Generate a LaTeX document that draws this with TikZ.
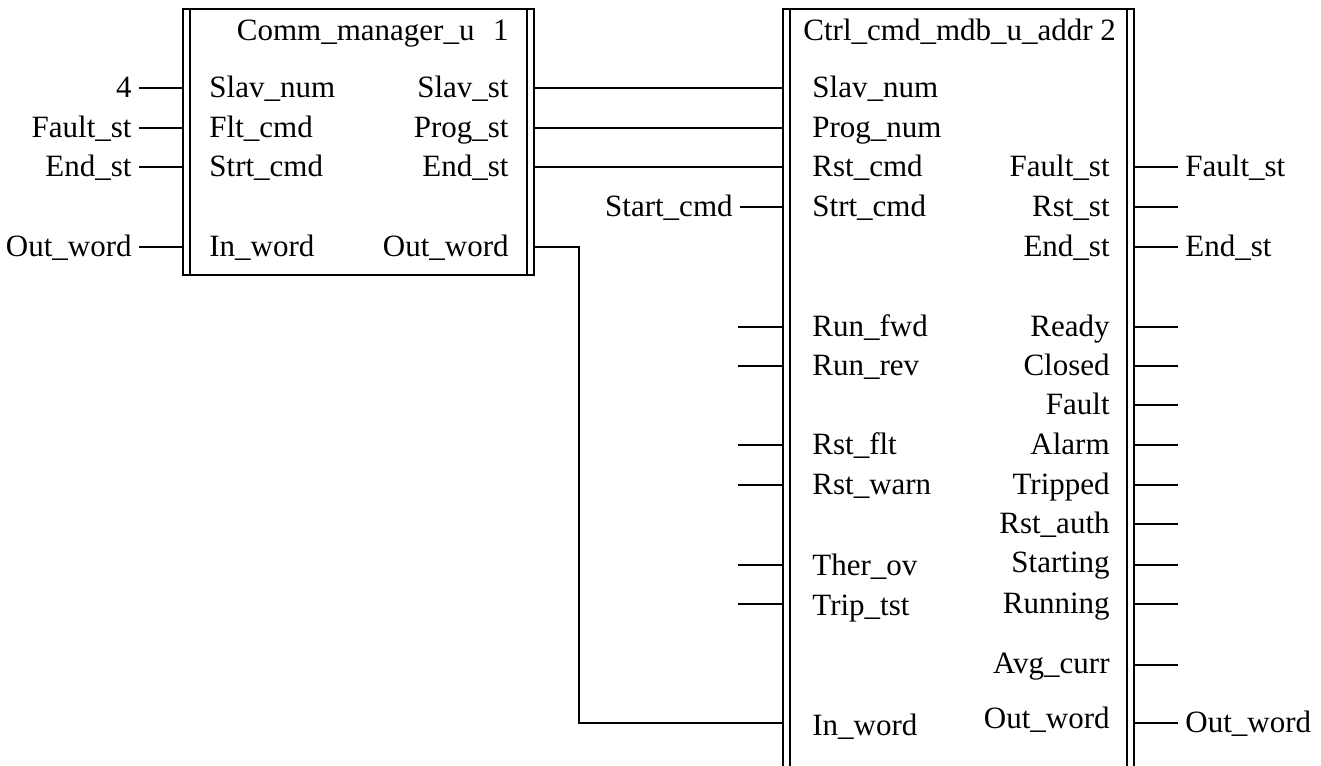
\documentclass[tikz,border=0pt]{standalone}
\usepackage{fontspec}
\setmainfont{Liberation Serif}
\usetikzlibrary{positioning}
\tikzset{
  wire/.style={line width=1.1pt},
  blk/.style={draw, line width=1.1pt, rectangle, inner sep=0pt},
  lbl/.style={font=\fontsize{15.5}{18}\selectfont, inner sep=0pt, text height=9.6pt, text depth=0pt},
  ext/.style={lbl, inner xsep=3.5pt},
}
\begin{document}
\begin{tikzpicture}[x=0.5pt, y=-0.5pt]
  \useasboundingbox (0,0) rectangle (1321,765);
  \clip (0,0) rectangle (1321,765);

  % --- Blocks ---
  \node[blk, minimum width=175.5pt, minimum height=133pt] (b1) at (358.5,142) {};
  \node[blk, minimum width=175.5pt, minimum height=388pt] (b2) at (958.5,397) {};
  \foreach \b in {b1,b2} {
    \draw[wire] ([xshift=4pt]\b.north west) -- ([xshift=4pt]\b.south west);
    \draw[wire] ([xshift=-4pt]\b.north east) -- ([xshift=-4pt]\b.south east);
  }

  % Titles
  \node[lbl, anchor=east] (t1) at (509,31) {Comm\_manager\_u\hspace{0.6em}1};
  \node[lbl, anchor=west] (t2) at (803,31) {Ctrl\_cmd\_mdb\_u\_addr 2};

  % --- Comm manager ports ---
  \foreach \y/\n/\t in {88/mi1/Slav\_num, 128/mi2/Flt\_cmd, 167/mi3/Strt\_cmd, 247/mi5/In\_word}
    \node[lbl, anchor=west] (\n) at (209,\y) {\t};
  \foreach \y/\n/\t in {88/mo1/Slav\_st, 128/mo2/Prog\_st, 167/mo3/End\_st, 247/mo5/Out\_word}
    \node[lbl, anchor=east] (\n) at (509,\y) {\t};

  % inputs from outside
  \foreach \y/\n/\t in {88/xa/4, 128/xb/Fault\_st, 167/xc/End\_st, 247/xd/Out\_word} {
    \node[ext, anchor=east] (\n) at (139,\y) {\t};
    \draw[wire] (\n.east) -- (\n -| b1.west);
  }

  % --- Ctrl cmd ports ---
  \foreach \y/\n/\t in {88/ci1/Slav\_num, 128/ci2/Prog\_num, 167/ci3/Rst\_cmd, 207/ci4/Strt\_cmd,
      327/ci5/Run\_fwd, 366/ci6/Run\_rev, 445/ci7/Rst\_flt, 485/ci8/Rst\_warn,
      566/ci9/Ther\_ov, 606/ci10/Trip\_tst, 726/ci11/In\_word}
    \node[lbl, anchor=west] (\n) at (812,\y) {\t};
  \foreach \y/\n/\t in {167/co1/Fault\_st, 207/co2/Rst\_st, 247/co3/End\_st,
      327/co4/Ready, 366/co5/Closed, 405/co6/Fault, 445/co7/Alarm, 485/co8/Tripped,
      524/co9/Rst\_auth, 563/co10/Starting, 604/co11/Running, 664/co12/Avg\_curr, 719/co13/Out\_word}
    \node[lbl, anchor=east] (\n) at (1110,\y) {\t};

  % links between the two blocks
  \draw[wire] (b1.east |- mo1) -- (b2.west |- mo1);
  \draw[wire] (b1.east |- mo2) -- (b2.west |- mo2);
  \draw[wire] (b1.east |- mo3) -- (b2.west |- mo3);
  \draw[wire] (b1.east |- mo5) -- ++(22pt,0) |- (b2.west |- 0,723);

  % left side, outside
  \node[ext, anchor=east] (sc) at (740,207) {Start\_cmd};
  \draw[wire] (sc.east) -- (sc -| b2.west);
  \foreach \y [count=\i] in {327,366,445,485,565,604} {
    \coordinate (li\i) at (738,\y);
    \draw[wire] (li\i) -- (li\i -| b2.west);
  }

  % right side, outside
  \foreach \y/\n/\t in {167/ya/Fault\_st, 247/yb/End\_st, 723/yc/Out\_word} {
    \node[ext, anchor=west] (\n) at (1178,\y) {\t};
    \draw[wire] (\n -| b2.east) -- (\n.west);
  }
  \foreach \y [count=\i] in {207,327,366,405,445,485,524,565,604,665} {
    \coordinate (ro\i) at (1178,\y);
    \draw[wire] (ro\i -| b2.east) -- (ro\i);
  }
\end{tikzpicture}
\end{document}
